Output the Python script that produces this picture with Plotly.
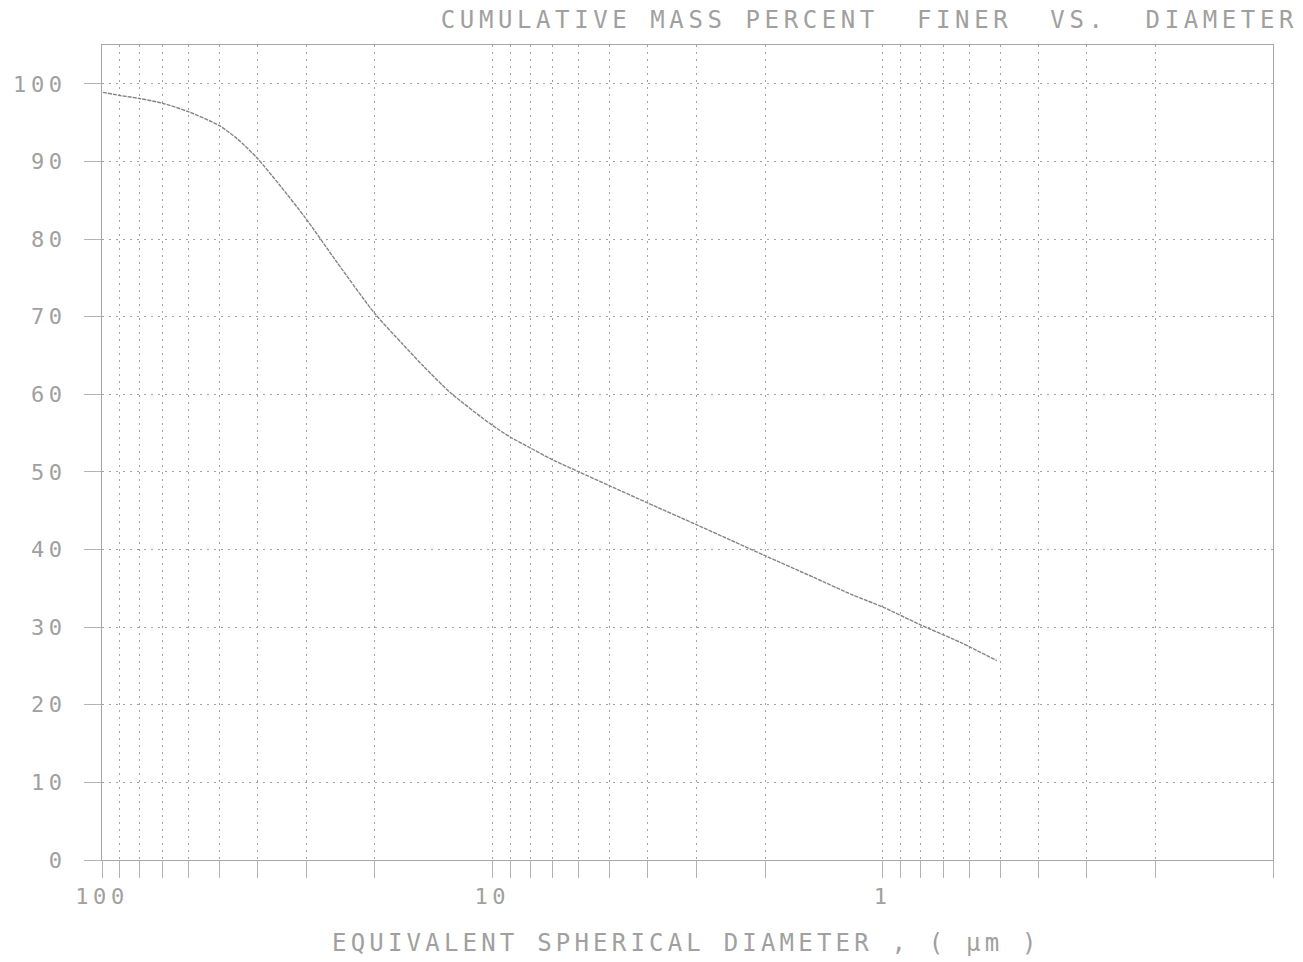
import plotly.graph_objects as go

# Sedimentation result: equivalent spherical diameter (um) vs cumulative mass % finer
diameter_um = [99.4, 90, 80, 70, 60, 50, 45, 40, 35, 30,
               25, 20, 17, 15, 12.8, 10, 9, 8, 7.1, 6,
               5, 4, 3, 2.4, 2, 1.5, 1.2, 1.0, 0.8, 0.63,
               0.51]
percent_finer = [98.9, 98.5, 98.1, 97.5, 96.4, 94.6, 92.9, 90.4, 86.9, 82.6,
                 77.0, 70.4, 66.5, 63.6, 60.2, 56.0, 54.5, 53.1, 51.7, 50.0,
                 48.2, 46.0, 43.2, 41.0, 39.2, 36.4, 34.2, 32.6, 30.3, 28.0,
                 25.7]

# log-cycle grid lines across three decades, labelled only at the decades
x_grid_vals = [100, 90, 80, 70, 60, 50, 40, 30, 20,
               10, 9, 8, 7, 6, 5, 4, 3, 2,
               1, 0.9, 0.8, 0.7, 0.6, 0.5, 0.4, 0.3, 0.2, 0.1]
x_tick_labels = {100: "100", 10: "10", 1: "1"}
y_tick_vals = [0, 10, 20, 30, 40, 50, 60, 70, 80, 90, 100]
y_tick_labels = ["0", "10", "20", "30", "40", "50", "60", "70", "80", "90", "100"]

title_text = "CUMULATIVE MASS PERCENT  FINER  VS.  DIAMETER"
x_title_text = "EQUIVALENT SPHERICAL DIAMETER , ( \u00b5m )"

FONT = "DejaVu Sans Mono"
INK = "#a0a0a0"
GRID = "#a2a2a2"


def spaced(s, px=4.6):
    """Plotter-style wide character pitch."""
    return f'<span style="letter-spacing:{px}px">{s}</span>' if s else ""


fig = go.Figure()
fig.add_trace(go.Scatter(
    x=diameter_um, y=percent_finer, mode="lines",
    line=dict(color="#858585", width=1.4, dash="4px,1px",
              shape="spline", smoothing=0.7),
    showlegend=False, hoverinfo="skip",
))

axis_common = dict(
    showline=True, mirror=True, linecolor="#a6a6a6", linewidth=1,
    showgrid=True, gridcolor=GRID, gridwidth=1, griddash="2px,5px",
    ticks="outside", ticklen=17, tickcolor="#b4b4b4", tickwidth=1,
    zeroline=False,
    tickfont=dict(family=FONT, size=22, color=INK),
)

fig.update_xaxes(
    type="log", range=[2, -1],
    tickmode="array", tickvals=x_grid_vals,
    ticktext=[spaced(x_tick_labels.get(v, "")) for v in x_grid_vals],
    ticklabelstandoff=0,
    **axis_common,
)
fig.update_yaxes(
    range=[0, 105],
    tickmode="array", tickvals=y_tick_vals,
    ticktext=[spaced(t) for t in y_tick_labels],
    ticklabelstandoff=13,
    **axis_common,
)

fig.update_layout(
    width=1303, height=962,
    margin=dict(l=102, r=30, t=45, b=102, autoexpand=False),
    paper_bgcolor="white", plot_bgcolor="white",
    title=dict(
        text=spaced(title_text),
        font=dict(family=FONT, size=24, color=INK),
        xref="container", x=1298 / 1303, xanchor="right",
        yref="container", y=1 - 20 / 962, yanchor="middle",
    ),
    annotations=[dict(
        text=spaced(x_title_text, 4.2),
        font=dict(family=FONT, size=24, color=INK),
        xref="paper", yref="paper",
        x=0.499, y=-(943 - 860) / 815,
        xanchor="center", yanchor="middle", showarrow=False,
    )],
)

fig.write_html("out.html")
